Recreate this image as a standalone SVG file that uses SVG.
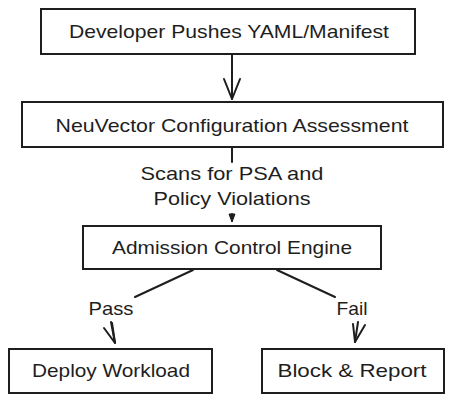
<svg xmlns="http://www.w3.org/2000/svg" width="454" height="402" viewBox="0 0 454 402">
<defs>
<style>
.box{fill:#ffffff;stroke:#1e1e1e;stroke-width:2}
.t{font-family:"Liberation Sans","DejaVu Sans",sans-serif;font-size:19px;fill:#1e1e1e;text-anchor:middle}
.ln{fill:none;stroke:#1e1e1e;stroke-width:2;stroke-linecap:round;stroke-linejoin:round}
</style>
</defs>
<rect width="454" height="402" fill="#ffffff"/>
<g id="connectors">
<path class="ln" d="M232 54 L232 99"/>
<path class="ln" d="M224 79 L232 99 L240 79"/>
<path class="ln" d="M232 147 L232 162"/>
<path class="ln" d="M232 214 L232 221"/>
<path d="M229 214 L235 214 L232 222 Z" fill="#1e1e1e" stroke="#1e1e1e" stroke-width="1"/>
<path class="ln" d="M193 270 L135 297"/>
<path class="ln" d="M111 322 L115 343"/>
<path class="ln" d="M104 328 L115 343 L112 323"/>
<path class="ln" d="M277 270 L335 297"/>
<path class="ln" d="M358 322 L355 342"/>
<path class="ln" d="M353 324 L355 342 L365 325"/>
<text class="t" x="232" y="180" textLength="183" lengthAdjust="spacingAndGlyphs">Scans for PSA and</text>
<text class="t" x="232" y="205" textLength="157" lengthAdjust="spacingAndGlyphs">Policy Violations</text>
<text class="t" x="111" y="315" textLength="45" lengthAdjust="spacingAndGlyphs">Pass</text>
<text class="t" x="352" y="315" textLength="31" lengthAdjust="spacingAndGlyphs">Fail</text>
</g>
<g id="node-developer">
<rect class="box" x="41" y="9" width="374" height="45"/>
<text class="t" x="229" y="38" textLength="320" lengthAdjust="spacingAndGlyphs">Developer Pushes YAML/Manifest</text>
</g>
<g id="node-neuvector">
<rect class="box" x="22" y="102" width="421" height="45"/>
<text class="t" x="232" y="132" textLength="353" lengthAdjust="spacingAndGlyphs">NeuVector Configuration Assessment</text>
</g>
<g id="node-admission">
<rect class="box" x="83" y="226" width="298" height="43"/>
<text class="t" x="232" y="254" textLength="240" lengthAdjust="spacingAndGlyphs">Admission Control Engine</text>
</g>
<g id="node-deploy">
<rect class="box" x="9" y="349" width="203" height="44"/>
<text class="t" x="111" y="377" textLength="158" lengthAdjust="spacingAndGlyphs">Deploy Workload</text>
</g>
<g id="node-block">
<rect class="box" x="262" y="349" width="182" height="44"/>
<text class="t" x="352" y="377" textLength="149" lengthAdjust="spacingAndGlyphs">Block &amp; Report</text>
</g>
</svg>
